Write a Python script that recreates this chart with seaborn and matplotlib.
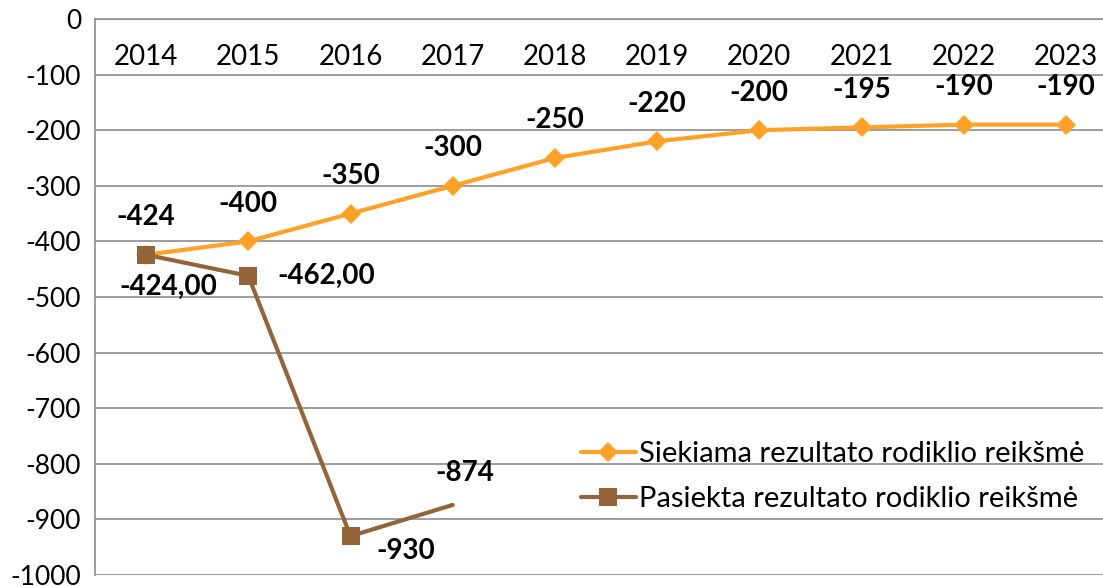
import pandas as pd
import numpy as np
import matplotlib.pyplot as plt
import seaborn as sns

# duomenys
metai = ['2014', '2015', '2016', '2017', '2018', '2019', '2020', '2021', '2022', '2023']
siekiama = [-424, -400, -350, -300, -250, -220, -200, -195, -190, -190]
pasiekta = [-424, -462, -930, -874]
pasiekta_etiketes = ['-424,00', '-462,00', '-930', '-874']

serija1 = 'Siekiama rezultato rodiklio reikšmė'
serija2 = 'Pasiekta rezultato rodiklio reikšmė'

df1 = pd.DataFrame({'metai': metai, 'reiksme': siekiama})
df2 = pd.DataFrame({'metai': metai[:len(pasiekta)], 'reiksme': pasiekta})

sns.set_style('white')
plt.rcParams['font.family'] = ['Lato', 'DejaVu Sans']
plt.rcParams['axes.unicode_minus'] = False
plt.rcParams['text.color'] = 'black'
plt.rcParams['xtick.color'] = 'black'
plt.rcParams['ytick.color'] = 'black'

oranzine = '#FFA126'
ruda = '#936439'

fig = plt.figure(figsize=(11.03, 5.87), dpi=100)
ax = fig.add_axes([95 / 1103, 12 / 587, 1022 / 1103, 556 / 587])

sns.lineplot(data=df1, x='metai', y='reiksme', ax=ax, color=oranzine, lw=3,
             marker='D', markersize=10, markeredgewidth=0, label=serija1, sort=False)
sns.lineplot(data=df2, x='metai', y='reiksme', ax=ax, color=ruda, lw=3,
             marker='s', markersize=13, markeredgewidth=0, markevery=[0, 1, 2],
             label=serija2, sort=False)

ax.set_xlim(-0.5, len(metai) - 0.5)
ax.set_ylim(-1000, 0)
ax.set_yticks(np.arange(-1000, 1, 100))
ax.yaxis.grid(True, color='#8c8c8c', lw=1.2)
ax.xaxis.grid(False)
for s in ['right', 'bottom']:
    ax.spines[s].set_visible(False)
ax.spines['left'].set_color('#8c8c8c')
ax.spines['top'].set_color('#8c8c8c')
ax.spines['left'].set_linewidth(1.2)
ax.spines['top'].set_linewidth(1.2)

ax.xaxis.tick_top()
ax.tick_params(axis='x', length=0, pad=-37, labelsize=20)
ax.tick_params(axis='y', length=0, pad=10, labelsize=19)
ax.set_xlabel('')
ax.set_ylabel('')

# reikšmių etiketės
for i, v in enumerate(siekiama):
    ax.annotate(str(v), (i, v), xytext=(0, 27), textcoords='offset points',
                ha='center', va='center', fontsize=20, fontweight='bold')

poslinkiai = [(16, -23), (56, 0), (40, -11), (9, 23)]
for i, (v, t) in enumerate(zip(pasiekta, pasiekta_etiketes)):
    ax.annotate(t, (i, v), xytext=poslinkiai[i], textcoords='offset points',
                ha='center', va='center', fontsize=20, fontweight='bold')

leg = ax.legend(loc='lower left', bbox_to_anchor=(474 / 1022, 0.092), frameon=False,
                fontsize=21, handlelength=1.9, handletextpad=0.1, labelspacing=0.65,
                borderaxespad=0)

fig.savefig('out.png', dpi=100)
